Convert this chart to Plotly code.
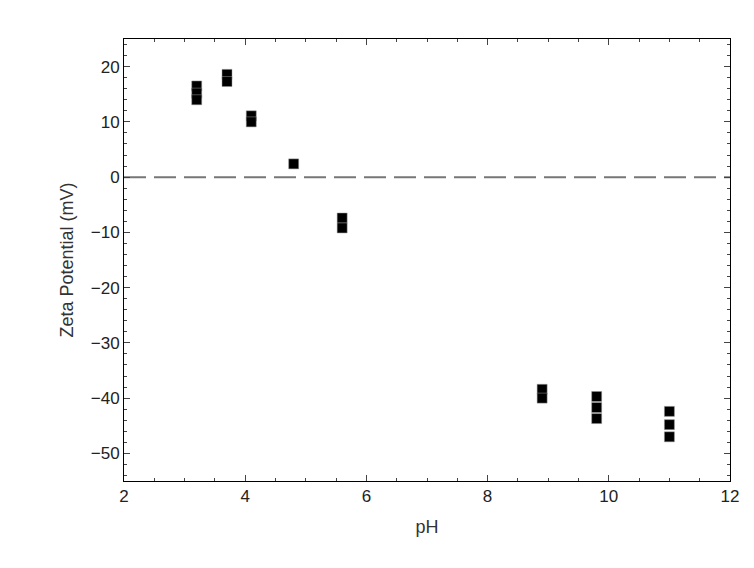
import plotly.graph_objects as go

ph = [3.2, 3.2, 3.2, 3.7, 3.7, 4.1, 4.1, 4.8, 5.6, 5.6, 8.9, 8.9, 9.8, 9.8, 9.8, 11, 11, 11]
zeta = [16.5, 15.2, 14.0, 18.6, 17.3, 11.1, 10.0, 2.4, -7.4, -9.2, -38.4, -40.0, -39.7, -41.7, -43.7, -42.4, -44.8, -47.0]

fig = go.Figure()
fig.add_trace(go.Scatter(x=ph, y=zeta, mode="markers",
    marker=dict(symbol="square", size=10, color="black", line=dict(color="#999", width=0.5))))
fig.add_shape(type="line", xref="paper", x0=0, x1=1, y0=0, y1=0,
    line=dict(color="#777", width=2, dash="22px,8px"), layer="below")
ax = dict(showline=True, linecolor="black", linewidth=1, mirror="ticks", ticks="inside",
    ticklen=6, showgrid=False, zeroline=False, tickfont=dict(size=17, family="Arial", color="#222"),
    title_font=dict(size=18, family="Arial", color="#333"), minor=dict(ticks="inside", ticklen=3))
fig.update_xaxes(range=[2, 12], dtick=2, title_text="pH", title_standoff=14, **ax)
fig.update_yaxes(range=[-55, 25], dtick=10, title_text="Zeta Potential (mV)", title_standoff=12, **ax)
fig.update_layout(width=754, height=568, plot_bgcolor="white", paper_bgcolor="white",
    showlegend=False, margin=dict(l=116, r=32, t=31, b=95))
fig.write_html("out.html")
